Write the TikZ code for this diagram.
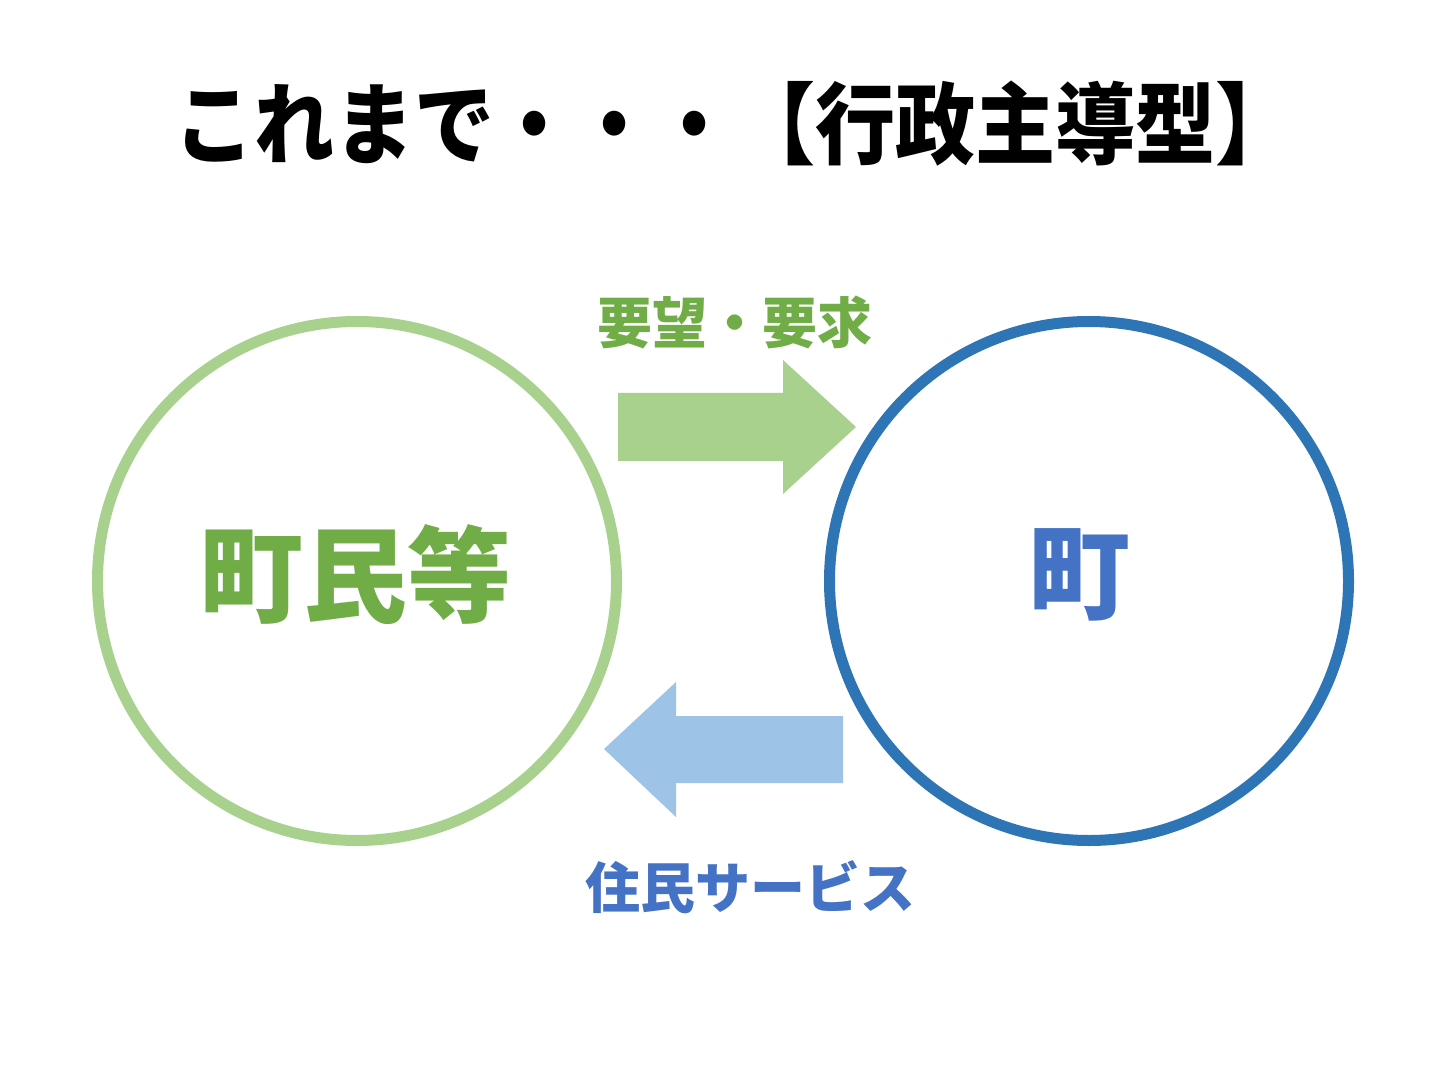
\documentclass[tikz,border=0pt]{standalone}
\usepackage{fontspec}
\newfontfamily\cjk{Noto Sans CJK JP}
\definecolor{gtext}{HTML}{70AD47}
\definecolor{btext}{HTML}{4472C4}
\definecolor{gline}{HTML}{A9D18E}
\definecolor{bline}{HTML}{2E75B6}
\definecolor{barrow}{HTML}{9DC3E6}
\begin{document}
\begin{tikzpicture}[x=0.5pt,y=-0.5pt,
  lbl/.style={inner sep=0pt,font=\cjk\bfseries},
  ring/.style={circle,minimum size=519pt*0.5,line width=5.5pt,draw}]
\useasboundingbox (0,0) rectangle (1440,1080);
\fill[white] (0,0) rectangle (1440,1080);
\node[lbl,font=\cjk\bfseries\fontsize{44.5pt}{50pt}\selectfont,xscale=0.9] (title) at (735,124) {これまで・・・【行政主導型】};
\node[ring,gline] (left) at (357,581) {};
\node[ring,bline] (right) at (1089,581) {};
\node[lbl,text=gtext,font=\cjk\bfseries\fontsize{52pt}{60pt}\selectfont] (ltext) at (left) [yshift=3pt,xshift=-1pt] {町民等};
\node[lbl,text=btext,font=\cjk\bfseries\fontsize{51pt}{60pt}\selectfont] (rtext) at (right) [yshift=3pt,xshift=-5pt] {町};
\fill[gline] (618,393) -- (783,393) -- (783,360) -- (856,427) -- (783,494) -- (783,461) -- (618,461) -- cycle;
\fill[barrow] (843,716) -- (676,716) -- (676,682) -- (604,749) -- (676,817) -- (676,783) -- (843,783) -- cycle;
\node[lbl,text=gtext,font=\cjk\bfseries\fontsize{27.5pt}{32pt}\selectfont] (req) at (735,322) {要望・要求};
\node[lbl,text=btext,font=\cjk\bfseries\fontsize{27.5pt}{32pt}\selectfont] (svc) at (750,887) {住民サービス};
\end{tikzpicture}
\end{document}
